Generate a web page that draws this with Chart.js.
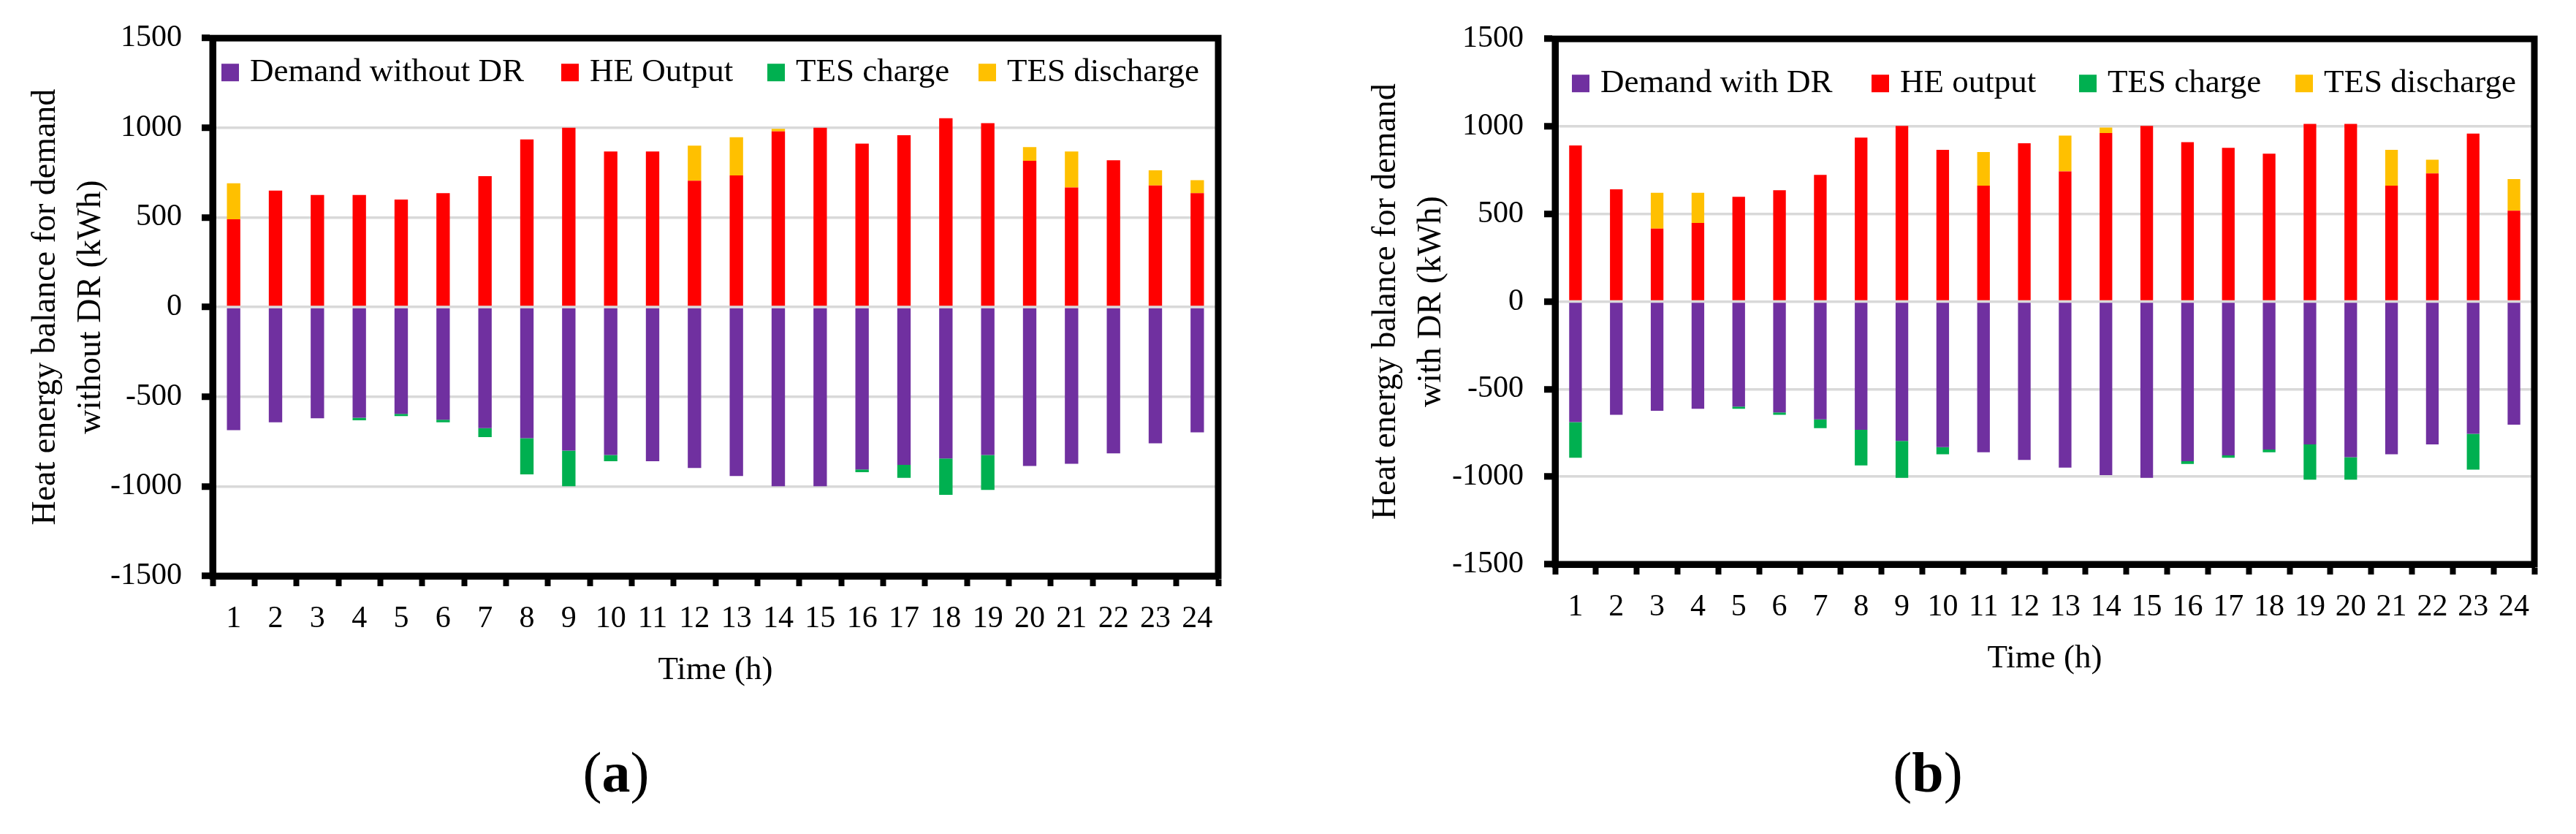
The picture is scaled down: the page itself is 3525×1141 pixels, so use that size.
<!DOCTYPE html>
<html>
<head>
<meta charset="utf-8">
<script src="https://cdn.jsdelivr.net/npm/chart.js@4.4.0/dist/chart.umd.min.js"></script>
<style>
  html, body { margin: 0; padding: 0; background: #fff; }
  #page { position: relative; width: 3525px; height: 1141px; overflow: hidden; background: #fff; }
  canvas { position: absolute; top: 0; }
  .cap { position: absolute; width: 400px; text-align: center; font-family: 'Liberation Serif', serif;
         font-size: 78px; line-height: 100px; color: #000; }
</style>
</head>
<body>
<div id="page">
  <canvas id="chartA" width="1760" height="1141" style="left:0px;width:1760px;height:1141px"></canvas>
  <canvas id="chartB" width="1765" height="1141" style="left:1760px;width:1765px;height:1141px"></canvas>
  <div class="cap" style="left:643px;top:1007px">(<b>a</b>)</div>
  <div class="cap" style="left:2438px;top:1007px">(<b>b</b>)</div>
</div>
<script>
// ---------- data ----------
const hours = ['1','2','3','4','5','6','7','8','9','10','11','12','13','14','15','16','17','18','19','20','21','22','23','24'];
const yTicks = [-1500, -1000, -500, 0, 500, 1000, 1500];

// Panel (a): without DR
const demandA    = [-687,-643,-620,-617,-596,-629,-675,-731,-801,-825,-860,-898,-942,-1000,-1000,-906,-880,-845,-825,-886,-874,-816,-760,-699];
const heA        = [490,650,625,625,600,635,730,935,1000,868,868,705,734,980,1000,912,959,1053,1026,816,667,819,678,635];
const chargeA    = [0,0,0,-15,-12,-14,-50,-202,-199,-35,0,0,0,0,0,-15,-73,-202,-195,0,0,0,0,0];
const dischargeA = [200,0,0,0,0,0,0,0,0,0,0,195,213,14,0,0,0,0,0,76,201,0,85,73];

// Panel (b): with DR
const demandB    = [-688,-647,-624,-612,-600,-633,-673,-732,-796,-831,-860,-904,-948,-991,-1006,-912,-878,-845,-816,-889,-872,-816,-755,-703];
const heB        = [892,641,417,449,598,636,723,936,1003,866,662,904,743,962,1003,910,878,845,1015,1015,662,732,959,519];
const chargeB    = [-204,0,0,0,-12,-14,-50,-204,-210,-41,0,0,0,0,0,-15,-14,-15,-201,-128,0,0,-204,0];
const dischargeB = [0,0,204,172,0,0,0,0,0,0,192,0,205,32,0,0,0,0,0,0,204,78,0,181];

// ---------- styles ----------
const COLORS = { demand: '#7030A0', he: '#FF0000', charge: '#00B050', discharge: '#FFC000' };
const FONT = 'Liberation Serif';
Chart.defaults.font.family = FONT;
Chart.defaults.color = '#000';

const frameLegend = {
  id: 'frameLegend',
  afterDraw(chart, args, opts) {
    const { ctx, chartArea: ca } = chart;
    ctx.save();
    // frame
    ctx.strokeStyle = '#000';
    ctx.lineWidth = 9;
    ctx.lineJoin = 'miter';
    ctx.strokeRect(ca.left, ca.top, ca.right - ca.left, ca.bottom - ca.top);
    // legend inside plot area
    ctx.font = opts.fontSize + 'px ' + FONT;
    ctx.textBaseline = 'alphabetic';
    ctx.textAlign = 'left';
    const base = ca.top + opts.baseline;
    chart.data.datasets.forEach((ds, i) => {
      const x = ca.left + opts.items[i];
      ctx.fillStyle = ds.backgroundColor;
      ctx.fillRect(x, base - opts.box, opts.box, opts.box);
      ctx.fillStyle = '#000';
      ctx.fillText(ds.label, x + opts.box + opts.textGap, base);
    });
    ctx.restore();
  }
};

function makeChart(id, cfg) {
  const datasets = [
    { label: cfg.labels[0], data: cfg.demand,    backgroundColor: COLORS.demand },
    { label: cfg.labels[1], data: cfg.he,        backgroundColor: COLORS.he },
    { label: cfg.labels[2], data: cfg.charge,    backgroundColor: COLORS.charge },
    { label: cfg.labels[3], data: cfg.discharge, backgroundColor: COLORS.discharge }
  ].map(d => Object.assign(d, { barPercentage: cfg.barPct, categoryPercentage: 1, borderWidth: 0 }));

  return new Chart(document.getElementById(id), {
    type: 'bar',
    data: { labels: hours, datasets },
    plugins: [frameLegend],
    options: {
      responsive: false,
      animation: false,
      devicePixelRatio: 1,
      layout: { padding: { left: 0, top: cfg.top, right: cfg.right, bottom: 0 } },
      plugins: {
        legend: { display: false },
        tooltip: { enabled: false },
        frameLegend: { fontSize: 45, box: 24, textGap: 15, baseline: cfg.legendBase, items: cfg.legendItems }
      },
      scales: {
        x: {
          stacked: true,
          offset: true,
          afterFit: s => { s.height = cfg.xHeight; },
          grid: { offset: true, drawOnChartArea: false, drawTicks: true, tickLength: 14, tickWidth: 8, tickColor: '#000', color: '#000' },
          border: { display: true, color: '#000', width: 9 },
          ticks: { font: { size: 42 }, padding: 20, maxRotation: 0, autoSkip: false, color: '#000' },
          title: { display: true, text: 'Time (h)', font: { size: 45 }, color: '#000', padding: { top: 0, bottom: cfg.xTitlePad } }
        },
        y: {
          stacked: true,
          min: yTicks[0],
          max: yTicks[yTicks.length - 1],
          afterFit: s => { s.width = cfg.yWidth; },
          afterBuildTicks: s => { s.ticks = yTicks.map(v => ({ value: v })); },
          grid: { color: '#D9D9D9', lineWidth: 3.5, drawTicks: true, tickLength: 15, tickWidth: 9, tickColor: '#000' },
          border: { display: true, color: '#000', width: 9 },
          ticks: { font: { size: 42 }, padding: cfg.yPad, color: '#000', callback: v => String(v) },
          title: { display: true, text: cfg.yTitle, font: { size: 46, lineHeight: 1.35 }, color: '#000', padding: { top: cfg.yTitlePad, bottom: 0 } }
        }
      }
    }
  });
}

makeChart('chartA', {
  demand: demandA, he: heA, charge: chargeA, discharge: dischargeA,
  labels: ['Demand without DR', 'HE Output', 'TES charge', 'TES discharge'],
  yTitle: ['Heat energy balance for demand', 'without DR (kWh)'],
  top: 41, right: 93, yWidth: 291, xHeight: 353, yPad: 27, yTitlePad: 32, xTitlePad: 197,
  barPct: 0.32, legendBase: 59, legendItems: [12, 477, 759, 1048]
});

makeChart('chartB', {
  demand: demandB, he: heB, charge: chargeB, discharge: dischargeB,
  labels: ['Demand with DR', 'HE output', 'TES charge', 'TES discharge'],
  yTitle: ['Heat energy balance for demand', 'with DR (kWh)'],
  top: 24, right: 57, yWidth: 368, xHeight: 369, yPad: 28, yTitlePad: 106, xTitlePad: 213,
  barPct: 0.31, legendBase: 73, legendItems: [23, 433, 717, 1013]
});
</script>
</body>
</html>
